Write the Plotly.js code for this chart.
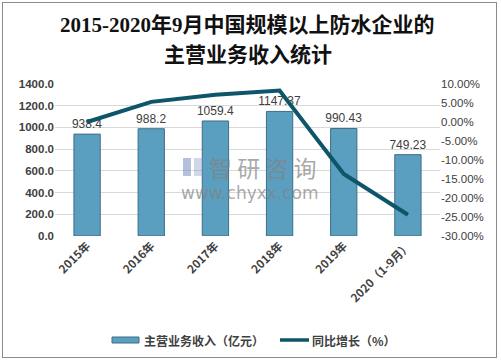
<!DOCTYPE html>
<html>
<head>
<meta charset="utf-8">
<script src="https://cdn.plot.ly/plotly-3.0.1.min.js"></script>
<style>
html,body{margin:0;padding:0;background:#fff;}
#wrap{position:relative;width:501px;height:362px;}
#chart{position:absolute;left:0;top:0;width:501px;height:362px;}
#frame{position:absolute;left:2px;top:2px;width:493px;height:354px;border:1px solid #8c8c8c;pointer-events:none;}
</style>
</head>
<body>
<div id="wrap"><div id="chart"></div><div id="frame"></div></div>
<script>
const categories = ["2015年", "2016年", "2017年", "2018年", "2019年", "2020（1-9月）"];
const revenue = [938.4, 988.2, 1059.4, 1147.37, 990.43, 749.23];
const revenueLabels = ["938.4", "988.2", "1059.4", "1147.37", "990.43", "749.23"];
const growth = [0.0, 5.3, 7.2, 8.3, -13.7, -24.4];
const leftTicks = [0, 200, 400, 600, 800, 1000, 1200, 1400];
const rightTicks = [-30, -25, -20, -15, -10, -5, 0, 5, 10];
const titleLines = ["2015-2020年9月中国规模以上防水企业的", "主营业务收入统计"];
const seriesNames = ["主营业务收入（亿元）", "同比增长（%）"];

const cjk = '"Noto Sans CJK SC", "Liberation Sans", sans-serif';
const titleFont = {family: '"Liberation Serif", "Noto Sans CJK SC", serif', size: 21, color: '#111111', weight: 'bold'};
const barColor = '#5a9ec0';
const barEdge = '#3d6f87';
const lineColor = '#0d5568';

// plot-area geometry (pixels) for placing the hand-made legend and watermark
const L = 55, T = 84, W = 385, H = 152;
const px = x => (x - L) / W;
const py = y => (T + H - y) / H;

const traces = [
  {
    type: 'bar',
    name: seriesNames[0],
    x: categories,
    y: revenue,
    text: revenueLabels,
    textposition: 'outside',
    constraintext: 'none',
    cliponaxis: false,
    textfont: {family: '"Liberation Sans", Arial, sans-serif', size: 12, color: '#404040'},
    marker: {color: barColor, line: {color: barEdge, width: 1}},
    hoverinfo: 'none'
  },
  {
    type: 'scatter',
    mode: 'lines',
    name: seriesNames[1],
    x: categories,
    y: growth,
    yaxis: 'y2',
    line: {color: lineColor, width: 4},
    hoverinfo: 'none'
  }
];

const layout = {
  width: 501,
  height: 362,
  paper_bgcolor: '#ffffff',
  plot_bgcolor: '#ffffff',
  margin: {l: L, r: 501 - L - W, t: T, b: 362 - T - H},
  bargap: 0.59,
  showlegend: false,
  xaxis: {
    type: 'category',
    tickangle: -45,
    automargin: false,
    tickfont: {family: cjk, size: 11.5, color: '#404040', weight: 'bold'},
    showgrid: false, showline: false, zeroline: false, ticks: ''
  },
  yaxis: {
    range: [0, 1400],
    automargin: false,
    tickvals: leftTicks,
    ticktext: leftTicks.map(v => v.toFixed(1)),
    tickfont: {family: '"Liberation Sans", Arial, sans-serif', size: 11.5, color: '#404040', weight: 'bold'},
    showgrid: true, gridcolor: '#d9d9d9', gridwidth: 1,
    zeroline: false, showline: false, ticks: '', ticklen: 0
  },
  yaxis2: {
    overlaying: 'y', side: 'right',
    automargin: false,
    range: [-30, 10],
    tickvals: rightTicks,
    ticktext: rightTicks.map(v => v.toFixed(2) + '%'),
    tickfont: {family: '"Liberation Sans", Arial, sans-serif', size: 11.5, color: '#404040'},
    showgrid: false, zeroline: false, showline: false, ticks: ''
  },
  shapes: [
    // legend symbols
    {type: 'rect', xref: 'paper', yref: 'paper', x0: px(112), x1: px(139), y0: py(343), y1: py(337),
     fillcolor: barColor, line: {color: barEdge, width: 1}},
    {type: 'line', xref: 'paper', yref: 'paper', x0: px(280), x1: px(309), y0: py(340), y1: py(340),
     line: {color: lineColor, width: 3.5}},
    // watermark logo
    {type: 'rect', xref: 'paper', yref: 'paper', x0: px(183), x1: px(191), y0: py(176), y1: py(158),
     fillcolor: 'rgba(120,140,190,0.55)', line: {width: 0}, layer: 'above'},
    {type: 'rect', xref: 'paper', yref: 'paper', x0: px(194), x1: px(203), y0: py(176), y1: py(158),
     fillcolor: 'rgba(120,140,190,0.35)', line: {width: 0}, layer: 'above'}
  ],
  annotations: [
    {text: titleLines[0], x: 0.5, xref: 'paper', y: py(25), yref: 'paper', xanchor: 'center', yanchor: 'middle',
     showarrow: false, font: titleFont},
    {text: titleLines[1], x: 0.5, xref: 'paper', y: py(55), yref: 'paper', xanchor: 'center', yanchor: 'middle',
     showarrow: false, font: titleFont},
    {text: seriesNames[0], x: px(142), y: py(340), xref: 'paper', yref: 'paper', xanchor: 'left', yanchor: 'middle',
     showarrow: false, font: {family: cjk, size: 12, color: '#404040', weight: 'bold'}},
    {text: seriesNames[1], x: px(310), y: py(340), xref: 'paper', yref: 'paper', xanchor: 'left', yanchor: 'middle',
     showarrow: false, font: {family: cjk, size: 12, color: '#404040', weight: 'bold'}},
    {text: '智 研 咨 询', x: px(262.5), y: py(167), xref: 'paper', yref: 'paper', xanchor: 'center', yanchor: 'middle',
     showarrow: false, font: {family: cjk, size: 23, color: 'rgba(130,130,130,0.7)'}},
    {text: 'www.chyxx.com', x: px(250), y: py(193), xref: 'paper', yref: 'paper', xanchor: 'center', yanchor: 'middle',
     showarrow: false, font: {family: '"DejaVu Sans", sans-serif', size: 17, color: 'rgba(130,130,130,0.7)'}}
  ]
};

Plotly.newPlot('chart', traces, layout, {displayModeBar: false, staticPlot: true});
</script>
</body>
</html>
